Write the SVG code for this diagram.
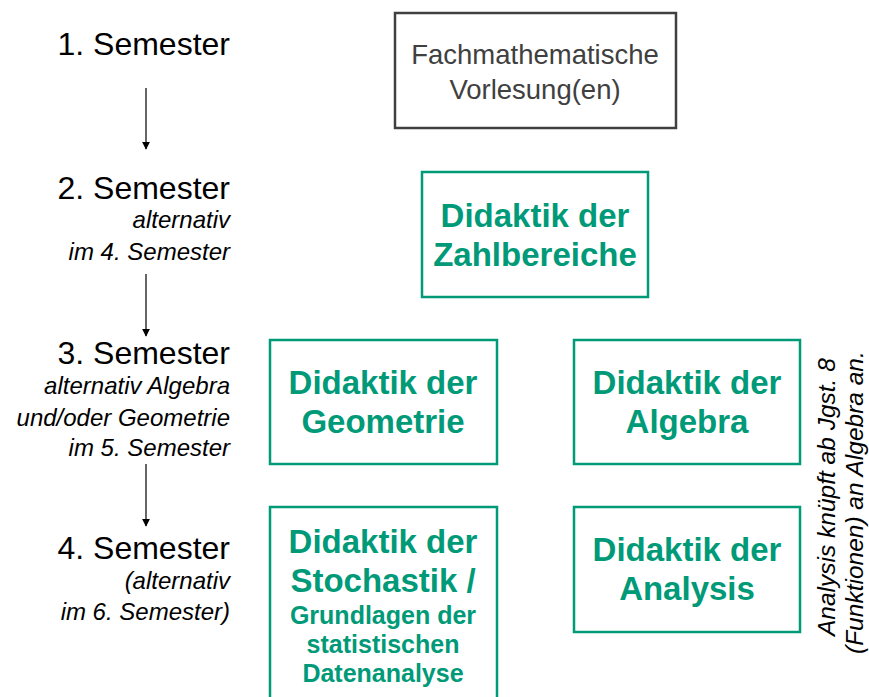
<svg xmlns="http://www.w3.org/2000/svg" width="869" height="697" viewBox="0 0 869 697">
<style>
text{font-family:"Liberation Sans",Arial,sans-serif}
.sem{font-size:32px;fill:#000;text-anchor:end}
.sub{font-size:24px;font-style:italic;fill:#000;text-anchor:end}
.gbox{fill:#fff;stroke:#009A78;stroke-width:2.5}
.gt{font-size:33px;font-weight:bold;fill:#009A78;text-anchor:middle}
.gs{font-size:25px;font-weight:bold;fill:#009A78;text-anchor:middle}
.conn{stroke:#000;stroke-width:1.2;fill:none;marker-end:url(#ah)}
</style>
<defs>
<marker id="ah" viewBox="0 0 10 10" refX="9" refY="5" markerWidth="8" markerHeight="8" markerUnits="userSpaceOnUse" orient="auto">
<path d="M0,0 L10,5 L0,10 z" fill="#000"/>
</marker>
</defs>
<rect width="869" height="697" fill="#fff"/>
<g id="labels">
<text class="sem" x="230" y="55">1. Semester</text>
<text class="sem" x="230" y="199">2. Semester</text>
<text class="sub" x="230" y="228">alternativ</text>
<text class="sub" x="230" y="260">im 4. Semester</text>
<text class="sem" x="230" y="364">3. Semester</text>
<text class="sub" x="230" y="394">alternativ Algebra</text>
<text class="sub" x="230" y="426">und/oder Geometrie</text>
<text class="sub" x="230" y="456">im 5. Semester</text>
<text class="sem" x="230" y="559">4. Semester</text>
<text class="sub" x="230" y="589">(alternativ</text>
<text class="sub" x="230" y="620">im 6. Semester)</text>
</g>
<g id="connectors">
<line class="conn" x1="146" y1="88" x2="146" y2="149"/>
<line class="conn" x1="146" y1="274" x2="146" y2="336"/>
<line class="conn" x1="146" y1="464" x2="146" y2="526"/>
</g>
<g id="fach">
<rect x="395" y="13" width="281" height="115" fill="#fff" stroke="#404040" stroke-width="2.5"/>
<text x="535" y="64" font-size="27.5" fill="#404040" text-anchor="middle">Fachmathematische</text>
<text x="535" y="99" font-size="27.5" fill="#404040" text-anchor="middle">Vorlesung(en)</text>
</g>
<g id="zahlbereiche">
<rect class="gbox" x="422" y="172" width="226" height="125"/>
<text class="gt" x="535" y="227">Didaktik der</text>
<text class="gt" x="535" y="266">Zahlbereiche</text>
</g>
<g id="geometrie">
<rect class="gbox" x="270" y="340" width="227" height="124"/>
<text class="gt" x="383" y="394">Didaktik der</text>
<text class="gt" x="383" y="433">Geometrie</text>
</g>
<g id="algebra">
<rect class="gbox" x="574" y="340" width="226" height="124"/>
<text class="gt" x="687" y="394">Didaktik der</text>
<text class="gt" x="687" y="433">Algebra</text>
</g>
<g id="stochastik">
<rect class="gbox" x="270" y="507" width="227" height="200"/>
<text class="gt" x="383" y="553">Didaktik der</text>
<text class="gt" x="383" y="592">Stochastik /</text>
<text class="gs" x="383" y="624">Grundlagen der</text>
<text class="gs" x="383" y="653">statistischen</text>
<text class="gs" x="383" y="682">Datenanalyse</text>
</g>
<g id="analysis">
<rect class="gbox" x="574" y="507" width="226" height="125"/>
<text class="gt" x="687" y="561">Didaktik der</text>
<text class="gt" x="687" y="600">Analysis</text>
</g>
<g id="note" font-size="24.5" font-style="italic" fill="#000">
<text transform="translate(835,636) rotate(-90)">Analysis knüpft ab Jgst. 8</text>
<text transform="translate(863,654) rotate(-90)">(Funktionen) an Algebra an.</text>
</g>
</svg>
